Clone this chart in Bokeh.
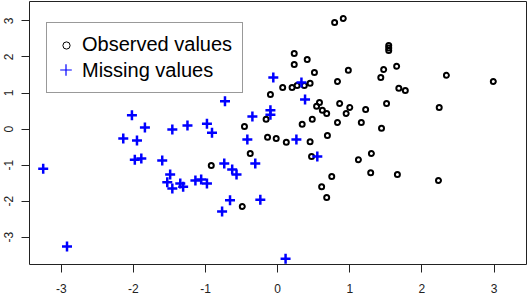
from bokeh.plotting import figure
from bokeh.models import Range1d, Legend, LegendItem, FixedTicker, CDSView, IndexFilter
from bokeh.embed import file_html
from bokeh.resources import INLINE

# Observed values (black circles)
obs_x = [-0.46, -0.10, 0.07, 0.20, 0.27, 0.37, 0.45, 0.79, 0.91, 0.23,
         0.23, 0.41, 0.51, 0.98, 0.83, 1.54, 1.54, 1.54, 1.65, 1.47,
         1.43, 1.68, 1.77, 0.58, 0.54, 0.62, 0.68, 0.86, 1.00, 0.95,
         1.22, 1.51, 0.48, 0.34, 0.83, 1.16, 1.44, 0.69, 0.45, 0.12,
         -0.02, -0.14, -0.16, 2.24, 2.34, 2.99, 2.23, 0.47, 1.12, 1.30,
         0.75, 1.29, 1.66, 0.61, 0.68, -0.38, -0.92, -0.49]
obs_y = [0.07, 0.96, 1.15, 1.15, 1.21, 1.21, 1.27, 2.96, 3.07, 2.10,
         1.79, 1.93, 1.57, 1.63, 1.32, 2.32, 2.25, 2.18, 1.74, 1.65,
         1.43, 1.13, 1.07, 0.74, 0.63, 0.52, 0.43, 0.71, 0.60, 0.43,
         0.54, 0.71, 0.27, 0.13, 0.18, 0.18, 0.02, -0.18, -0.35, -0.37,
         -0.26, -0.23, 0.27, 0.60, 1.49, 1.32, -1.43, -0.76, -0.85, -0.68,
         -1.32, -1.21, -1.26, -1.60, -1.90, -0.68, -1.01, -2.15]

# Missing values (blue crosses)
miss_x = [-0.73, -2.02, -1.84, -2.14, -1.95, -1.46, -1.25, -0.98, -0.91, -0.35,
          -0.42, -0.06, 0.33, 0.38, -0.10, -0.10, 0.26, 0.55, 0.11, -3.25,
          -2.92, -1.98, -1.89, -1.60, -1.49, -1.53, -1.46, -1.35, -1.31, -1.14,
          -1.06, -0.98, -0.74, -0.63, -0.57, -0.31, -0.66, -0.77, -0.24]
miss_y = [0.77, 0.38, 0.04, -0.26, -0.32, -0.01, 0.10, 0.15, -0.10, 0.35,
          -0.29, 1.43, 1.29, 0.82, 0.52, 0.40, -0.29, -0.76, -3.60, -1.10,
          -3.26, -0.85, -0.82, -0.87, -1.26, -1.48, -1.65, -1.51, -1.60, -1.43,
          -1.40, -1.51, -0.96, -1.12, -1.26, -0.96, -1.98, -2.29, -1.96]

x_ticks = [-3, -2, -1, 0, 1, 2, 3]
x_tick_labels = ["-3", "-2", "-1", "0", "1", "2", "3"]
y_ticks = [-3, -2, -1, 0, 1, 2, 3]
y_tick_labels = ["-3", "-2", "-1", "0", "1", "2", "3"]
legend_labels = ["Observed values", "Missing values"]

p = figure(frame_width=497, frame_height=263,
           x_range=Range1d(-3.44, 3.45), y_range=Range1d(-3.76, 3.54),
           output_backend="svg", toolbar_location=None,
           min_border_left=29, min_border_right=2,
           min_border_top=1, min_border_bottom=30)
p.margin = (0, -2, -12, 0)
p.grid.visible = False
p.outline_line_color = "#222222"
p.outline_line_width = 1
p.outline_line_alpha = 1
p.background_fill_color = "white"
p.border_fill_color = "white"

for ax, ticks, labs in ((p.xaxis[0], x_ticks, x_tick_labels),
                        (p.yaxis[0], y_ticks, y_tick_labels)):
    ax.ticker = FixedTicker(ticks=ticks)
    ax.major_label_overrides = {t: l for t, l in zip(ticks, labs)}
    ax.axis_line_color = None
    ax.major_tick_in = 0
    ax.major_tick_out = 8
    ax.minor_tick_line_color = None
    ax.major_tick_line_color = "#222222"
    ax.major_label_text_font = "Liberation Sans"
    ax.major_label_text_font_size = "12px"
    ax.major_label_text_color = "#222222"
p.xaxis[0].major_label_standoff = 11
p.yaxis[0].major_label_standoff = 8
p.yaxis[0].major_label_orientation = "vertical"

p.scatter(obs_x, obs_y, marker="circle", size=5, line_width=2,
          line_color="black", fill_color=None)
p.scatter(miss_x, miss_y, marker="cross", size=10, line_width=2.5,
          line_color="#0000FF")

# legend renderers: thin symbols of zero size on the plot (one point each,
# hidden under an existing marker); the legend draws them at its own size
r_obs = p.scatter(obs_x, obs_y, marker="circle", size=0, line_width=1,
                  line_color="black", fill_color=None,
                  view=CDSView(filter=IndexFilter(indices=[0])))
r_inv = p.scatter(miss_x, miss_y, marker="cross", size=0, line_alpha=0,
                  view=CDSView(filter=IndexFilter(indices=[0])))
r_plus = p.scatter(miss_x, miss_y, marker="cross", size=0, line_width=1.2,
                   line_color="#0000FF",
                   view=CDSView(filter=IndexFilter(indices=[0])))

legA = Legend(items=[LegendItem(label=legend_labels[0], renderers=[r_obs]),
                     LegendItem(label=legend_labels[1], renderers=[r_inv])],
              location=(17, 171), padding=10, spacing=3,
              glyph_width=18, glyph_height=18, label_standoff=7,
              label_text_font="Liberation Sans", label_text_font_size="20px",
              label_text_color="black",
              border_line_color="#333333", border_line_width=1,
              background_fill_color="white", background_fill_alpha=1, margin=0)
p.add_layout(legA)

legB = Legend(items=[LegendItem(label=" ", renderers=[r_plus])],
              location=(22, 180), padding=0, spacing=0,
              glyph_width=29, glyph_height=29, label_standoff=0,
              label_width=0, label_height=0, label_text_font_size="1px",
              border_line_color=None, background_fill_alpha=0, margin=0)
p.add_layout(legB)

open("out.html", "w").write(file_html(p, INLINE))
